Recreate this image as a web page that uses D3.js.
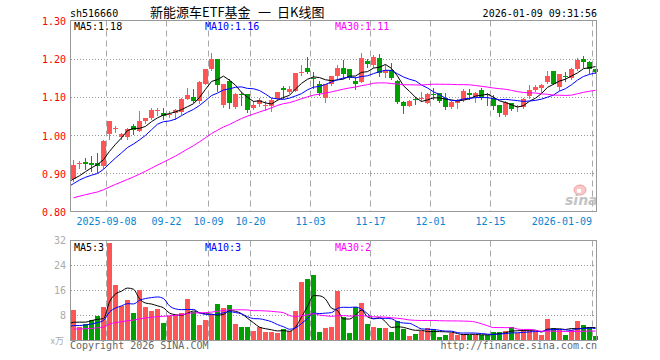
<!DOCTYPE html>
<html><head><meta charset="utf-8">
<script src="https://cdn.jsdelivr.net/npm/d3@7"></script>
<style>body{margin:0;background:#fff} svg{display:block}</style>
</head><body><svg id="c" width="660" height="360"></svg>
<script>
// ---- data ----
const opens  = [0.884,0.925,0.929,0.926,0.928,0.919,1.002,1.015,0.996,0.994,1.025,1.011,1.037,1.044,1.064,1.057,1.053,1.057,1.060,1.095,1.099,1.088,1.135,1.172,1.198,1.078,1.142,1.074,1.108,1.107,1.070,1.081,1.078,1.076,1.095,1.124,1.112,1.116,1.162,1.175,1.150,1.133,1.096,1.135,1.155,1.175,1.173,1.141,1.140,1.194,1.183,1.201,1.162,1.170,1.142,1.086,1.077,1.094,1.094,1.085,1.108,1.110,1.098,1.074,1.085,1.092,1.109,1.101,1.119,1.107,1.098,1.079,1.052,1.083,1.073,1.074,1.103,1.118,1.122,1.138,1.167,1.127,1.154,1.149,1.172,1.200,1.191,1.172];
const highs  = [0.936,0.931,0.939,0.945,0.954,0.986,1.038,1.024,1.006,1.019,1.028,1.063,1.046,1.072,1.072,1.070,1.062,1.069,1.096,1.122,1.121,1.141,1.173,1.214,1.200,1.134,1.146,1.109,1.113,1.108,1.089,1.096,1.088,1.096,1.113,1.128,1.128,1.163,1.184,1.205,1.166,1.142,1.135,1.156,1.183,1.196,1.174,1.153,1.216,1.199,1.210,1.212,1.185,1.188,1.145,1.088,1.092,1.100,1.112,1.110,1.124,1.111,1.110,1.089,1.094,1.120,1.120,1.112,1.122,1.109,1.104,1.080,1.090,1.085,1.080,1.097,1.131,1.132,1.135,1.169,1.168,1.161,1.164,1.175,1.202,1.208,1.193,1.174];
const lows   = [0.880,0.913,0.911,0.906,0.904,0.915,0.989,1.008,0.991,0.990,1.002,1.010,1.031,1.042,1.052,1.043,1.047,1.042,1.054,1.094,1.087,1.085,1.133,1.171,1.115,1.074,1.072,1.071,1.080,1.060,1.068,1.076,1.067,1.062,1.093,1.097,1.110,1.115,1.157,1.162,1.122,1.105,1.087,1.131,1.150,1.149,1.148,1.121,1.138,1.179,1.179,1.156,1.153,1.148,1.084,1.058,1.075,1.082,1.088,1.083,1.095,1.087,1.068,1.072,1.071,1.090,1.094,1.086,1.094,1.080,1.069,1.049,1.050,1.066,1.064,1.071,1.098,1.115,1.113,1.136,1.134,1.118,1.141,1.147,1.171,1.179,1.162,1.162];
const closes = [0.922,0.928,0.925,0.921,0.919,0.985,1.037,1.018,1.004,1.016,1.013,1.037,1.044,1.066,1.066,1.050,1.056,1.066,1.095,1.105,1.088,1.139,1.172,1.198,1.130,1.133,1.085,1.107,1.105,1.065,1.079,1.092,1.080,1.092,1.112,1.117,1.120,1.162,1.166,1.166,1.148,1.111,1.133,1.155,1.175,1.159,1.150,1.134,1.203,1.185,1.205,1.162,1.170,1.150,1.086,1.077,1.090,1.091,1.096,1.107,1.104,1.089,1.074,1.087,1.092,1.116,1.106,1.110,1.098,1.105,1.077,1.059,1.087,1.069,1.075,1.095,1.118,1.126,1.130,1.156,1.135,1.160,1.151,1.172,1.196,1.191,1.172,1.166];
const volumes = [9.6,4.3,5.0,6.4,7.8,10.7,31.1,17.6,10.9,12.8,8.75,16.0,10.7,9.3,9.9,5.55,7.7,8.0,8.5,13.1,9.1,4.8,6.4,8.0,11.5,10.2,11.1,5.1,4.3,4.05,3.0,4.1,2.6,2.6,2.2,3.5,3.0,9.3,18.6,19.5,20.8,2.5,4.0,4.2,15.7,7.3,2.35,10.5,11.9,5.1,4.3,3.95,3.95,2.7,6.2,3.4,1.3,1.9,2.9,3.9,3.6,1.1,1.6,2.35,1.6,1.9,1.6,1.6,1.6,1.6,2.7,2.7,3.0,4.3,2.1,3.2,3.2,2.7,1.6,6.7,3.7,3.2,1.6,3.2,6.2,4.8,4.3,1.3];
// closes / volumes of the 29 sessions before the window (only feed the moving averages)
const priorCloses = [0.805,0.81,0.808,0.815,0.812,0.818,0.815,0.812,0.818,0.815,0.82,0.818,0.825,0.822,0.82,0.818,0.825,0.822,0.826,0.826,0.835,0.852,0.868,0.872,0.878,0.885,0.872,0.870,0.876];
const priorVolumes = [3.2,2.8,3.0,2.6,3.4,2.9,3.1,2.7,3.0,2.8,3.3,2.9,2.6,3.1,2.8,3.0,3.2,2.7,2.9,3.0,4.0,3.2,3.4,3.2,3.8,4.1,5.0,3.9,5.8];
const tickIndex  = [6,16,23,30,40,50,60,70,87];
const tickLabels = ["2025-09-08","09-22","10-09","10-20","11-03","11-17","12-01","12-15","2026-01-09"];
const priceTicks = [1.30,1.20,1.10,1.00,0.90,0.80];
const volTicks   = [32,24,16,8];
const maPeriods  = [5,10,30];
const maColors   = ["#000000","#0000ff","#ff00ff"];
const maPriceLabels = ["MA5:1.18","MA10:1.16","MA30:1.11"];
const maVolLabels   = ["MA5:3","MA10:3","MA30:2"];
const titleParts = ["新能源车ETF基金","一","日K线图"];

// ---- drawing ----
const svg = d3.select("#c");
const mono = "'DejaVu Sans Mono', monospace";
const cjk = "'Noto Sans CJK SC', sans-serif";
const RED = "#ff5555", GREEN = "#00a000";
const n = closes.length;
const xi = d3.scaleLinear().domain([0, n]).range([70, 598]);
const xb = d3.scaleBand().domain(d3.range(n)).range([70, 598]).padding(0);
const yP = d3.scaleLinear().domain([0.8, 1.3]).range([211.5, 20.5]);
const yV = d3.scaleLinear().domain([0, 32]).range([340, 240]);
const crisp = v => Math.round(v) + 0.5;

function movingAvg(prior, data, k) {
  const all = prior.concat(data), off = prior.length, out = [];
  for (let i = -1; i < data.length; i++) {
    const j = i + off;
    if (j - k + 1 < 0) continue;
    out.push({i, v: d3.mean(all.slice(j - k + 1, j + 1))});
  }
  return out;
}

const defs = svg.append("defs");
defs.append("clipPath").attr("id","clipP").append("rect").attr("x",71).attr("y",21).attr("width",526).attr("height",190);
defs.append("clipPath").attr("id","clipV").append("rect").attr("x",71).attr("y",241).attr("width",526).attr("height",99);

// grid
const grid = svg.append("g").attr("fill","none").attr("stroke-width",1);
[[20.5,211.5],[240.5,340.5]].forEach(([a,b]) => {
  grid.selectAll(null).data(tickIndex).enter().append("line")
    .attr("x1", i => crisp(xi(i))).attr("x2", i => crisp(xi(i)))
    .attr("y1", a).attr("y2", b).attr("stroke","#a8a8a8").attr("stroke-dasharray","6,4");
});
grid.selectAll(null).data(priceTicks.filter(t => t < 1.29 && t > 0.81)).enter().append("line")
  .attr("x1",71).attr("x2",597).attr("y1", d => crisp(yP(d))).attr("y2", d => crisp(yP(d)))
  .attr("stroke","#999").attr("stroke-dasharray","1,2");
grid.selectAll(null).data(volTicks.filter(t => t < 32)).enter().append("line")
  .attr("x1",71).attr("x2",597).attr("y1", d => crisp(yV(d))).attr("y2", d => crisp(yV(d)))
  .attr("stroke","#999").attr("stroke-dasharray","1,2");

// sina watermark
const wm = svg.append("g");
wm.append("ellipse").attr("cx",580).attr("cy",190).attr("rx",6).attr("ry",5).attr("fill","#f9c8c8").attr("stroke","#f0a0a0");
wm.append("circle").attr("cx",579).attr("cy",191).attr("r",2.2).attr("fill","#fff");
wm.append("text").attr("x",565).attr("y",205).attr("font-family","'DejaVu Sans', sans-serif")
  .attr("font-size",14).attr("font-weight","bold").attr("font-style","italic").attr("fill","#c4c4c4").text("sina");

// candles
const cg = svg.append("g").attr("shape-rendering","crispEdges");
const idx = d3.range(n);
cg.selectAll(".wick").data(idx).enter().append("line")
  .attr("x1", i => Math.floor(xb(i)) + 3.5).attr("x2", i => Math.floor(xb(i)) + 3.5)
  .attr("y1", i => Math.round(yP(highs[i]))).attr("y2", i => Math.round(yP(lows[i])) + 1)
  .attr("stroke", i => closes[i] >= opens[i] ? RED : GREEN);
cg.selectAll(".body").data(idx).enter().append("rect")
  .attr("x", i => Math.floor(xb(i)) + 1).attr("width", 5)
  .attr("y", i => Math.round(yP(Math.max(opens[i], closes[i]))))
  .attr("height", i => Math.max(1, Math.round(yP(Math.min(opens[i], closes[i]))) - Math.round(yP(Math.max(opens[i], closes[i])))))
  .attr("fill", i => closes[i] >= opens[i] ? RED : GREEN);

// volume bars
cg.selectAll(".vol").data(idx).enter().append("rect")
  .attr("x", i => Math.floor(xb(i)) + 1).attr("width", 5)
  .attr("y", i => Math.round(yV(volumes[i])))
  .attr("height", i => 340 - Math.round(yV(volumes[i])))
  .attr("fill", i => closes[i] >= opens[i] ? RED : GREEN);

// moving averages
const lineP = d3.line().x(d => xi(d.i) + 3.5).y(d => yP(d.v));
const lineV = d3.line().x(d => xi(d.i) + 3.5).y(d => yV(d.v)).curve(d3.curveMonotoneX);
maPeriods.forEach((k, j) => {
  svg.append("path").attr("clip-path","url(#clipP)").attr("fill","none").attr("stroke",maColors[j]).attr("stroke-width",1)
    .attr("d", lineP(movingAvg(priorCloses, closes, k)));
  svg.append("path").attr("clip-path","url(#clipV)").attr("fill","none").attr("stroke",maColors[j]).attr("stroke-width",1)
    .attr("d", lineV(movingAvg(priorVolumes, volumes, k)));
});

// frames
svg.append("rect").attr("x",70.5).attr("y",20.5).attr("width",526).attr("height",191).attr("fill","none").attr("stroke","#999");
svg.append("rect").attr("x",70.5).attr("y",240.5).attr("width",526).attr("height",100).attr("fill","none").attr("stroke","#999");

// texts
const T = (x, y, t, o = {}) => svg.append("text").attr("x", x).attr("y", y)
  .attr("font-family", o.ff || mono).attr("font-size", o.fs || 10).attr("fill", o.fill || "#000")
  .attr("text-anchor", o.anchor || "start").text(t);

T(70, 17, "sh516660");
const titleX = [150, 258, 277];
titleParts.forEach((t, j) => T(titleX[j], 17, t, {ff: cjk, fs: 13}));
T(597, 17, "2026-01-09 09:31:56", {anchor: "end"});

const labX = [74, 205, 335];
maPriceLabels.forEach((t, j) => T(labX[j], 30, t, {fill: maColors[j]}));
maVolLabels.forEach((t, j) => T(labX[j], 251, t, {fill: maColors[j]}));

priceTicks.forEach(v => T(66, yP(v) + 4.5, v.toFixed(2), {anchor: "end", fill: "#ff0000"}));
volTicks.forEach(v => T(66, yV(v) + 4, String(v), {anchor: "end", fill: "#aaaaaa"}));
T(64, 344, "x万", {anchor: "end", fill: "#aaaaaa", ff: cjk, fs: 9});

tickIndex.forEach((i, j) => {
  const last = j === tickIndex.length - 1;
  T(last ? xi(i) : xi(i) + 0.5, 225, tickLabels[j], {anchor: last ? "end" : "middle", fill: "#0a84d2"});
});

T(70, 349, "Copyright 2026 SINA.COM", {fill: "#666"});
T(597, 349, "http://finance.sina.com.cn", {anchor: "end", fill: "#666"});
</script></body></html>
